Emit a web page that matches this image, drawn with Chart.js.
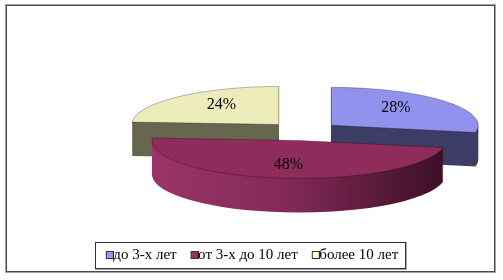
<!DOCTYPE html>
<html><head><meta charset="utf-8">
<style>html,body{margin:0;padding:0;background:#fff;}#wrap{width:503px;height:280px;position:relative}</style>
<script src="https://cdn.jsdelivr.net/npm/chart.js@4.4.0/dist/chart.umd.min.js"></script>
</head><body><div id="wrap"><canvas id="c" width="503" height="280"></canvas></div>
<script>
const categories = ['до 3-х лет', 'от 3-х до 10 лет', 'более 10 лет'];
const shares = [28, 48, 24];
const percentLabels = ['28%', '48%', '24%'];

const legendColors = ['#9999FF', '#993366', '#FFFFCC'];
const topColors = ['#9191EE', '#8E2D5B', '#EDEDBC'];
const sideColors = ['#3D3D66', null, '#67674F'];

const K = 38 / 147;     // vertical squash of the pie
const DEPTH = 34;       // thickness of the pie
const SHIFT_X = 52;     // horizontal shift of the pie inside the chart area

function sliceGeom(chart, meta) {
  return meta.data.map((a, i) => {
    const p = a.getProps(['x', 'y', 'startAngle', 'endAngle', 'outerRadius'], true);
    const mid = (p.startAngle + p.endAngle) / 2;
    const off = a.options.offset || 0;
    const rx = p.outerRadius, ry = rx * K;
    return { i, cx: p.x + SHIFT_X + off * Math.cos(mid), cy: p.y + off * K * Math.sin(mid),
             rx, ry, s: p.startAngle, e: p.endAngle, mid };
  });
}
function slicePath(ctx, cx, cy, rx, ry, s, e) {
  ctx.beginPath();
  ctx.moveTo(cx, cy);
  ctx.ellipse(cx, cy, rx, ry, 0, s, e, false);
  ctx.closePath();
}
function boxImage(color) {
  const c = document.createElement('canvas');
  c.width = 17; c.height = 8;
  const x = c.getContext('2d');
  x.fillStyle = color; x.fillRect(9, 0, 8, 8);
  x.strokeStyle = '#333'; x.lineWidth = 1; x.strokeRect(9.5, 0.5, 7, 7);
  return c;
}
const boxImages = legendColors.map(boxImage);

const pie3d = {
  id: 'pie3d',
  beforeDraw(chart) {
    const ctx = chart.ctx;
    ctx.save();
    ctx.fillStyle = '#fff';
    ctx.fillRect(0, 0, chart.width, chart.height);
    ctx.strokeStyle = '#a0a0a0';
    ctx.lineWidth = 1;
    ctx.strokeRect(5.5, 4.5, 490, 268);
    ctx.strokeStyle = '#4a4a4a';
    ctx.strokeRect(6.5, 5.5, 488, 266);
    ctx.restore();
  },
  beforeDatasetDraw(chart, args) {
    const ctx = chart.ctx;
    const g = sliceGeom(chart, args.meta).sort((a, b) => a.cy - b.cy);
    ctx.save();
    g.forEach(o => {
      let side = sideColors[o.i];
      if (!side) {
        const gr = ctx.createLinearGradient(o.cx - o.rx, 0, o.cx + o.rx, 0);
        gr.addColorStop(0, '#993466');
        gr.addColorStop(0.45, '#832a58');
        gr.addColorStop(0.75, '#5c1b3c');
        gr.addColorStop(1, '#3a0f24');
        side = gr;
      }
      ctx.fillStyle = side;
      for (let d = DEPTH; d >= 1; d--) {
        slicePath(ctx, o.cx, o.cy + d, o.rx, o.ry, o.s, o.e);
        ctx.fill();
      }
      slicePath(ctx, o.cx, o.cy, o.rx, o.ry, o.s, o.e);
      ctx.fillStyle = topColors[o.i];
      ctx.fill();
      ctx.strokeStyle = 'rgba(0,0,0,0.35)';
      ctx.lineWidth = 0.8;
      ctx.stroke();
    });
    ctx.restore();
    return false;
  },
  afterDatasetsDraw(chart) {
    const ctx = chart.ctx;
    const g = sliceGeom(chart, chart.getDatasetMeta(0));
    ctx.save();
    ctx.font = '16px "Liberation Serif", "Times New Roman", serif';
    ctx.fillStyle = '#000';
    ctx.textAlign = 'center';
    ctx.textBaseline = 'middle';
    g.forEach(o => {
      const x = o.cx + 0.57 * o.rx * Math.cos(o.mid);
      const y = o.cy + 0.68 * o.ry * Math.sin(o.mid) - 1;
      ctx.fillText(percentLabels[o.i], x, y);
    });
    ctx.restore();
  },
  afterDraw(chart) {
    const hb = chart.legend && chart.legend.legendHitBoxes;
    if (!hb || !hb.length) return;
    const ctx = chart.ctx;
    let l = Infinity, r = -Infinity, t = Infinity, b = -Infinity;
    hb.forEach(h => { l = Math.min(l, h.left); r = Math.max(r, h.left + h.width); t = Math.min(t, h.top); b = Math.max(b, h.top + h.height); });
    const L = Math.round(l - 9.5) + 0.5, T = Math.round(t - 5.5) + 0.5;
    const W = Math.round(r + 7) - Math.round(l - 9.5), H = Math.round(b + 5.5) - Math.round(t - 5.5);
    ctx.save();
    ctx.lineWidth = 1;
    ctx.strokeStyle = '#a8a8a8';
    ctx.strokeRect(L, T, W + 1, H + 1);
    ctx.strokeStyle = '#333';
    ctx.strokeRect(L, T, W, H);
    ctx.restore();
  }
};

Chart.defaults.font.family = '"Liberation Serif", "Times New Roman", serif';
Chart.defaults.color = '#000';

new Chart(document.getElementById('c'), {
  type: 'pie',
  data: {
    labels: categories,
    datasets: [{
      data: shares,
      backgroundColor: legendColors,
      borderColor: '#222',
      borderWidth: 1,
      offset: 36
    }]
  },
  options: {
    responsive: false,
    animation: false,
    radius: 147,
    layout: { padding: { left: 6, right: 6, top: 28, bottom: 7.5 } },
    plugins: {
      tooltip: { enabled: false },
      legend: {
        position: 'bottom',
        labels: {
          usePointStyle: true,
          pointStyleWidth: 1,
          boxHeight: 8,
          padding: 13,
          font: { size: 15 },
          color: '#000',
          generateLabels(chart) {
            return chart.data.labels.map((text, i) => ({
              text, index: i, datasetIndex: 0, hidden: false,
              fillStyle: legendColors[i], strokeStyle: '#333', lineWidth: 1,
              pointStyle: boxImages[i], fontColor: '#000'
            }));
          }
        }
      }
    }
  },
  plugins: [pie3d]
});
</script>
</body></html>
